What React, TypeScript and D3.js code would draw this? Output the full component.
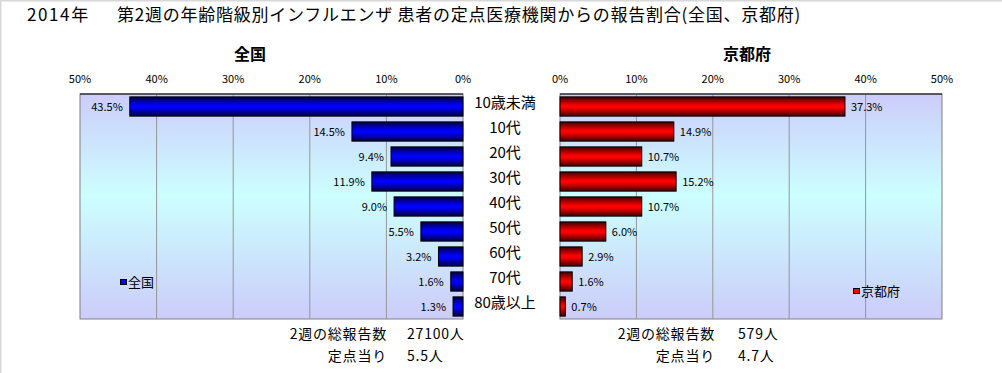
import React from "react";
import * as d3 from "d3";

const categories = ["10歳未満", "10代", "20代", "30代", "40代", "50代", "60代", "70代", "80歳以上"];
const nationalValues = [43.5, 14.5, 9.4, 11.9, 9.0, 5.5, 3.2, 1.6, 1.3];
const kyotoValues = [37.3, 14.9, 10.7, 15.2, 10.7, 6.0, 2.9, 1.6, 0.7];
const tickValues = [0, 10, 20, 30, 40, 50];
const nationalSummary = ["27100人", "5.5人"];
const kyotoSummary = ["579人", "4.7人"];
const summaryLabels = ["2週の総報告数", "定点当り"];

const W = 1002;
const H = 373;
const FONT = "'Noto Sans CJK JP', 'Noto Sans', sans-serif";

export default function App() {
  const top = 94;
  const bottom = 319;
  const leftX = d3.scaleLinear().domain([0, 50]).range([463, 80]);
  const rightX = d3.scaleLinear().domain([0, 50]).range([560, 942]);
  const y = d3.scaleBand<string>().domain(categories).range([top, bottom]).paddingInner(0.23).paddingOuter(0.115);

  const plotBg = (x0: number, x1: number) => (
    <g>
      <rect x={x0} y={top} width={x1 - x0} height={bottom - top} fill="url(#bgGrad)" stroke="#808080" strokeWidth={1} />
      {tickValues.slice(1, -1).map((t) => {
        const gx = x0 < 500 ? leftX(t) : rightX(t);
        return <line key={t} x1={gx} x2={gx} y1={top} y2={bottom} stroke="#969696" strokeWidth={1} />;
      })}
      <line x1={x0} x2={x1} y1={top} y2={top} stroke="#000" strokeWidth={1} />
    </g>
  );

  return (
    <svg width={W} height={H} style={{ position: "absolute", left: 0, top: 0 }} fontFamily={FONT}>
      <defs>
        <linearGradient id="bgGrad" x1="0" y1="0" x2="0" y2="1">
          <stop offset="0" stopColor="#ccccfa" />
          <stop offset="0.45" stopColor="#ccffff" />
          <stop offset="1" stopColor="#ccccfa" />
        </linearGradient>
        <linearGradient id="blueGrad" x1="0" y1="0" x2="0" y2="1">
          <stop offset="0" stopColor="#000040" />
          <stop offset="0.45" stopColor="#0000ff" />
          <stop offset="0.55" stopColor="#0000ff" />
          <stop offset="1" stopColor="#000040" />
        </linearGradient>
        <linearGradient id="redGrad" x1="0" y1="0" x2="0" y2="1">
          <stop offset="0" stopColor="#400000" />
          <stop offset="0.45" stopColor="#ff0000" />
          <stop offset="0.55" stopColor="#ff0000" />
          <stop offset="1" stopColor="#400000" />
        </linearGradient>
      </defs>
      <rect x={0} y={0} width={W} height={H} fill="#fff" />
      <line x1={0.5} x2={0.5} y1={0} y2={H} stroke="#d8d8d8" strokeWidth={2} />
      <line x1={0} x2={W} y1={0.5} y2={0.5} stroke="#d8d8d8" strokeWidth={2} />

      <text x={27} y={21} fontSize={17} fill="#000" letterSpacing={1.6}>2014年</text>
      <text x={117} y={21} fontSize={17} fill="#000" letterSpacing={0.75}>第2週の年齢階級別インフルエンザ 患者の定点医療機関からの報告割合(全国、京都府)</text>

      <text x={250} y={60} fontSize={16} fontWeight="bold" textAnchor="middle">全国</text>
      <text x={747} y={60} fontSize={16} fontWeight="bold" textAnchor="middle">京都府</text>

      {tickValues.map((t) => (
        <text key={"lt" + t} x={leftX(t)} y={83} fontSize={11} textAnchor="middle">{t}%</text>
      ))}
      {tickValues.map((t) => (
        <text key={"rt" + t} x={rightX(t)} y={83} fontSize={11} textAnchor="middle">{t}%</text>
      ))}

      {plotBg(80, 463)}
      {plotBg(560, 942)}

      {categories.map((c, i) => {
        const by = y(c)!;
        const bh = y.bandwidth();
        const v = nationalValues[i];
        return (
          <g key={"n" + c}>
            <rect x={leftX(v)} y={by} width={leftX(0) - leftX(v)} height={bh} fill="url(#blueGrad)" stroke="#000" strokeWidth={1} />
            <text x={leftX(v) - 7} y={by + bh / 2 + 4} fontSize={11} textAnchor="end">{v.toFixed(1)}%</text>
          </g>
        );
      })}
      {categories.map((c, i) => {
        const by = y(c)!;
        const bh = y.bandwidth();
        const v = kyotoValues[i];
        return (
          <g key={"k" + c}>
            <rect x={rightX(0)} y={by} width={rightX(v) - rightX(0)} height={bh} fill="url(#redGrad)" stroke="#000" strokeWidth={1} />
            <text x={rightX(v) + 6} y={by + bh / 2 + 4} fontSize={11}>{v.toFixed(1)}%</text>
          </g>
        );
      })}
      {categories.map((c) => (
        <text key={"c" + c} x={505} y={y(c)! + y.bandwidth() / 2 + 1} fontSize={15} textAnchor="middle">{c}</text>
      ))}

      <rect x={120.5} y={279.5} width={6} height={5} fill="#0000ff" stroke="#000" strokeWidth={1} />
      <text x={128} y={287} fontSize={13}>全国</text>
      <rect x={853.5} y={288.5} width={6} height={5} fill="#ff0000" stroke="#000" strokeWidth={1} />
      <text x={861} y={296} fontSize={13}>京都府</text>

      {summaryLabels.map((s, i) => (
        <g key={"s" + i}>
          <text x={387} y={339 + i * 22} fontSize={14} letterSpacing={0.8} textAnchor="end">{s}</text>
          <text x={407} y={339 + i * 22} fontSize={14} letterSpacing={0.8}>{nationalSummary[i]}</text>
          <text x={715} y={339 + i * 22} fontSize={14} letterSpacing={0.8} textAnchor="end">{s}</text>
          <text x={738} y={339 + i * 22} fontSize={14} letterSpacing={0.8}>{kyotoSummary[i]}</text>
        </g>
      ))}
    </svg>
  );
}
